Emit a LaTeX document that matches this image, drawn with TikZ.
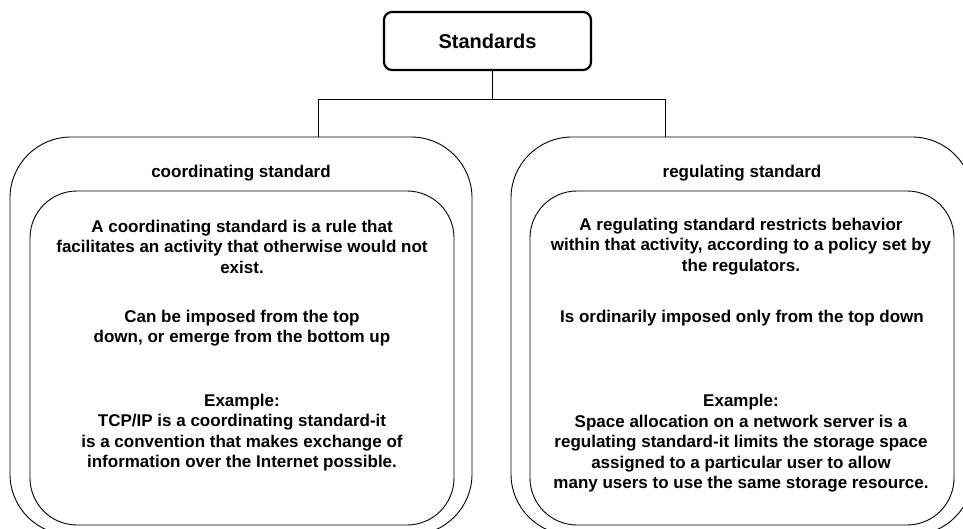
\documentclass[tikz,border=0pt]{standalone}
\usepackage{fontspec}
\setmainfont{Liberation Sans}
\begin{document}
\begin{tikzpicture}[x=1pt,y=-1pt,
  topbox/.style={draw, line width=2.2pt, rounded corners=8pt, minimum width=207pt, minimum height=58pt, inner sep=0pt, font=\fontsize{20}{24}\selectfont\bfseries},
  outerbox/.style={draw, line width=0.9pt, rounded corners=61pt, minimum width=462pt, minimum height=398pt, inner sep=0pt},
  innerbox/.style={draw, line width=0.9pt, rounded corners=47pt, minimum width=424pt, minimum height=334pt, inner sep=0pt},
  title/.style={inner sep=0pt, font=\fontsize{17}{20.5}\selectfont\bfseries},
  body/.style={align=center, inner sep=0pt, font=\fontsize{17}{20.5}\selectfont\bfseries},
  conn/.style={line width=0.9pt}]
\useasboundingbox (0,0) rectangle (963,529);
\clip (0,0) rectangle (963,529);
% boxes
\node[topbox] (top) at (487.5,41) {Standards};
\node[outerbox] (lo) at (241,336) {};
\node[outerbox] (ro) at (742,336) {};
\node[innerbox] (li) at (242,358) {};
\node[innerbox] (ri) at (742,358) {};
% connectors
\coordinate (jm) at (492,99);
\coordinate (jl) at (318,99);
\coordinate (jr) at (665,99);
\draw[conn] (jm |- top.south) -- (jm);
\draw[conn] (jl |- lo.north) -- (jl) -- (jr) -- (jr |- ro.north);
% titles
\node[title] (lt) at (241,173) {coordinating standard};
\node[title] (rt) at (742,173) {regulating standard};
% left texts
\node[body] (l1) at (242,246.5) {A coordinating standard is a rule that\\facilitates an activity that otherwise would not\\exist.};
\node[body] (l2) at (242,328) {Can be imposed from the top\\down, or emerge from the bottom up};
\node[body] (l3) at (242,432.5) {Example:\\TCP/IP is a coordinating standard-it\\is a convention that makes exchange of\\information over the Internet possible.};
% right texts
\node[body] (r1) at (741,246.5) {A regulating standard restricts behavior\\within that activity, according to a policy set by\\the regulators.};
\node[body] (r2) at (742,318) {Is ordinarily imposed only from the top down};
\node[body] (r3) at (741,443.5) {Example:\\Space allocation on a network server is a\\regulating standard-it limits the storage space\\assigned to a particular user to allow\\many users to use the same storage resource.};
\end{tikzpicture}
\end{document}
